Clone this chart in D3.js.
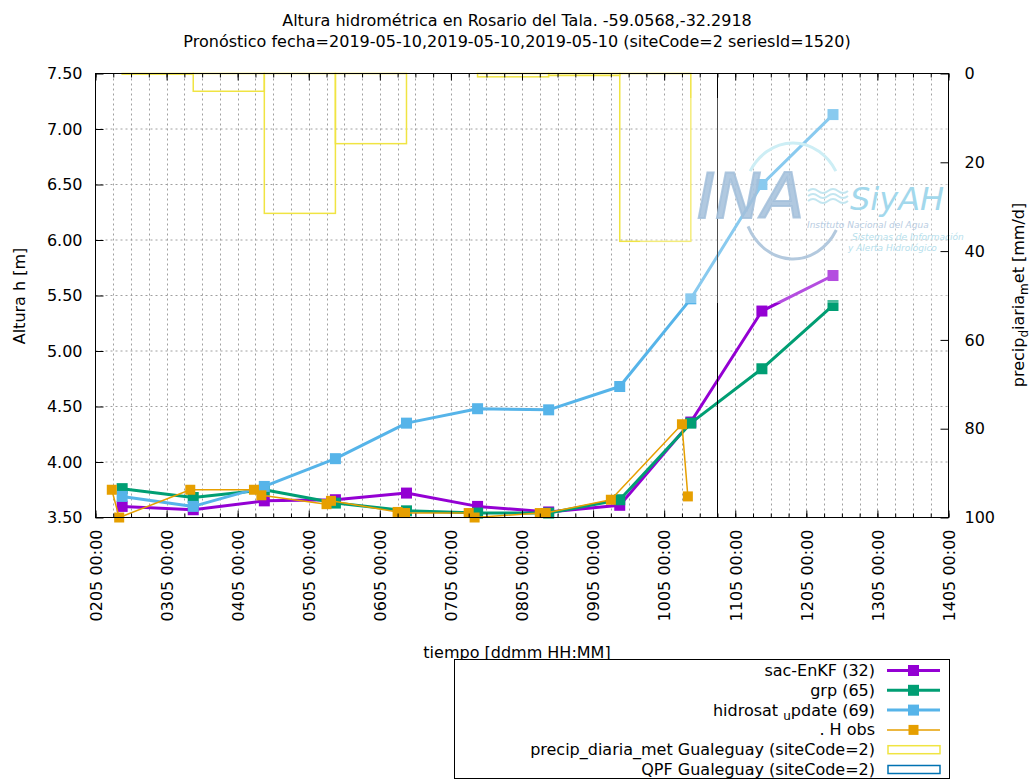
<!DOCTYPE html>
<html>
<head>
<meta charset="utf-8">
<script src="https://cdn.jsdelivr.net/npm/d3@7"></script>
<style>
  body { margin: 0; background: #fff; }
  text { font-family: "DejaVu Sans", sans-serif; }
</style>
</head>
<body>
<svg id="chart" width="1031" height="781"></svg>
<script>
// ---- data ----
const tickDays = ["2019-05-02", "2019-05-03", "2019-05-04", "2019-05-05", "2019-05-06", "2019-05-07",
  "2019-05-08", "2019-05-09", "2019-05-10", "2019-05-11", "2019-05-12", "2019-05-13", "2019-05-14"];
const yTicks = [3.5, 4.0, 4.5, 5.0, 5.5, 6.0, 6.5, 7.0, 7.5];
const y2Ticks = [0, 20, 40, 60, 80, 100];

// simulated series, one value per day at 09:00
const simTimes = ["2019-05-02T09:00", "2019-05-03T09:00", "2019-05-04T09:00", "2019-05-05T09:00",
  "2019-05-06T09:00", "2019-05-07T09:00", "2019-05-08T09:00", "2019-05-09T09:00",
  "2019-05-10T09:00", "2019-05-11T09:00", "2019-05-12T09:00"];
const sacEnKF = [3.60, 3.57, 3.65, 3.66, 3.72, 3.60, 3.55, 3.61, 4.36, 5.36, 5.68];
const grp = [3.76, 3.68, 3.75, 3.63, 3.56, 3.54, 3.54, 3.66, 4.35, 4.84, 5.41];
const hidrosat = [3.69, 3.60, 3.78, 4.03, 4.35, 4.48, 4.47, 4.68, 5.47, 6.50, 7.13];

// observed stage
const obsTimes = ["2019-05-02T05:30", "2019-05-02T08:00", "2019-05-03T08:00", "2019-05-04T05:30",
  "2019-05-04T08:00", "2019-05-05T06:00", "2019-05-05T07:30", "2019-05-06T06:00",
  "2019-05-06T08:30", "2019-05-07T06:00", "2019-05-07T08:00", "2019-05-08T06:00",
  "2019-05-08T08:00", "2019-05-09T06:00", "2019-05-10T06:00", "2019-05-10T08:00"];
const obsH = [3.75, 3.50, 3.75, 3.75, 3.70, 3.62, 3.65, 3.55, 3.54, 3.54, 3.50, 3.54, 3.54, 3.66, 4.34, 3.69];

// daily precipitation (mm/d), boxes starting at 09:00
const precipStart = ["2019-05-02T09:00", "2019-05-03T09:00", "2019-05-04T09:00", "2019-05-05T09:00",
  "2019-05-06T09:00", "2019-05-07T09:00", "2019-05-08T09:00", "2019-05-09T09:00"];
const precipMm = [0.15, 4.0, 31.5, 15.8, 0, 0.75, 0.45, 37.8];

const nowTime = "2019-05-10T18:00";

// ---- setup ----
const svg = d3.select("#chart");
const plot = { left: 95.5, right: 948.5, top: 73.5, bottom: 517.5 };
const parseT = d3.utcParse("%Y-%m-%dT%H:%M");
const parseD = d3.utcParse("%Y-%m-%d");

const x = d3.scaleUtc()
  .domain([parseD(tickDays[0]), parseD(tickDays[tickDays.length - 1])])
  .range([plot.left, plot.right]);
const y = d3.scaleLinear().domain([3.5, 7.5]).range([plot.bottom, plot.top]);
const y2 = d3.scaleLinear().domain([0, 100]).range([plot.top, plot.bottom]);

const colors = {
  sac: "#9400d3", grp: "#009e73", hidro: "#56b4e9", obs: "#e69f00",
  precip: "#f0e442", qpf: "#0072b2",
};

// ---- grid ----
const grid = svg.append("g").attr("stroke", "#a0a0a0").attr("stroke-width", 1)
  .attr("stroke-dasharray", "2,3");
grid.selectAll("line.h")
  .data(yTicks.slice(1, -1))
  .join("line")
  .attr("x1", plot.left).attr("x2", plot.right)
  .attr("y1", (d) => y(d)).attr("y2", (d) => y(d));
grid.selectAll("line.v")
  .data(x.ticks(d3.utcHour.every(6)).slice(1, -1))
  .join("line")
  .attr("x1", (d) => Math.round(x(d)) + 0.5).attr("x2", (d) => Math.round(x(d)) + 0.5)
  .attr("y1", plot.top).attr("y2", plot.bottom);

// ---- precipitation boxes (y2) ----
const precip = precipStart.map((s, i) => ({ t: parseT(s), v: precipMm[i] }));
svg.append("g")
  .selectAll("rect")
  .data(precip)
  .join("rect")
  .attr("x", (d) => x(d.t))
  .attr("width", (d) => x(d3.utcDay.offset(d.t, 1)) - x(d.t))
  .attr("y", y2(0))
  .attr("height", (d) => y2(d.v) - y2(0))
  .attr("fill", "none")
  .attr("stroke", colors.precip)
  .attr("stroke-width", 1.5);

// ---- series ----
const line = d3.line().x((d) => x(d.t)).y((d) => y(d.v));
const sim = (vals) => simTimes.map((s, i) => ({ t: parseT(s), v: vals[i] }));
const series = [
  { key: "sac", data: sim(sacEnKF), color: colors.sac, width: 3, size: 11 },
  { key: "grp", data: sim(grp), color: colors.grp, width: 3, size: 11 },
  { key: "hidro", data: sim(hidrosat), color: colors.hidro, width: 3, size: 11 },
  { key: "obs", data: obsTimes.map((s, i) => ({ t: parseT(s), v: obsH[i] })), color: colors.obs, width: 1.5, size: 10 },
];

series.forEach((s) => {
  const g = svg.append("g");
  g.append("path")
    .datum(s.data)
    .attr("d", line)
    .attr("fill", "none")
    .attr("stroke", s.color)
    .attr("stroke-width", s.width)
    .attr("stroke-linejoin", "round");
  g.selectAll("rect")
    .data(s.data)
    .join("rect")
    .attr("x", (d) => x(d.t) - s.size / 2)
    .attr("y", (d) => y(d.v) - s.size / 2)
    .attr("width", s.size)
    .attr("height", s.size)
    .attr("fill", s.color);
});

// forecast date line
svg.append("line")
  .attr("x1", Math.round(x(parseT(nowTime))) + 0.5).attr("x2", Math.round(x(parseT(nowTime))) + 0.5)
  .attr("y1", plot.top).attr("y2", plot.bottom)
  .attr("stroke", "#000").attr("stroke-width", 1);

// ---- watermark (INA SiyAH logo) ----
const wm = svg.append("g");
wm.append("rect")
  .attr("x", 640).attr("y", 98).attr("width", 316).attr("height", 205)
  .attr("fill", "#fff").attr("fill-opacity", 0.3);
const ell = (cx, cy, rx, ry, a1, a2, sweep) => {
  const r = (a) => (a * Math.PI) / 180;
  const p1 = [cx + rx * Math.cos(r(a1)), cy + ry * Math.sin(r(a1))];
  const p2 = [cx + rx * Math.cos(r(a2)), cy + ry * Math.sin(r(a2))];
  return `M${p1}A${rx},${ry} 0 0 ${sweep} ${p2}`;
};
wm.append("path").attr("d", ell(793, 201, 50, 58, 211, 329, 1))
  .attr("fill", "none").attr("stroke", "#cdeef5").attr("stroke-width", 3);
wm.append("path").attr("d", ell(793, 201, 50, 58, 154, 30, 0))
  .attr("fill", "none").attr("stroke", "#b3c9de").attr("stroke-width", 3);
wm.append("text").attr("x", 697).attr("y", 218)
  .attr("font-size", 62).attr("font-style", "italic")
  .attr("fill", "#a3bfdb").attr("stroke", "#a3bfdb").attr("stroke-width", 2)
  .attr("fill-opacity", 0.85).attr("stroke-opacity", 0.85).text("INA");
[0, 1, 2].forEach((i) => {
  const yy = 191 + i * 5;
  wm.append("path")
    .attr("d", `M808,${yy} q5,-4 10,0 t10,0 t10,0 t10,0`)
    .attr("fill", "none").attr("stroke", "#c3e6f0").attr("stroke-width", 2);
});
wm.append("text").attr("x", 850).attr("y", 210)
  .attr("font-size", 32).attr("font-style", "italic")
  .attr("fill", "#a2d8ec").text("SiyAH");
wm.append("text").attr("x", 807).attr("y", 228)
  .attr("font-family", "DejaVu Serif").attr("font-size", 9).attr("font-style", "italic")
  .attr("fill", "#b9cde2").text("Instituto Nacional del Agua");
wm.append("text").attr("x", 852).attr("y", 240)
  .attr("font-family", "DejaVu Serif").attr("font-size", 9).attr("font-style", "italic")
  .attr("fill", "#b6e0ec").text("Sistemas de Información");
wm.append("text").attr("x", 848).attr("y", 251)
  .attr("font-family", "DejaVu Serif").attr("font-size", 9).attr("font-style", "italic")
  .attr("fill", "#b6e0ec").text("y Alerta Hidrológico");

// ---- axes ----
const fmtX = d3.utcFormat("%d%m %H:%M");
const days = tickDays.map(parseD);
const minor = x.ticks(d3.utcHour.every(6));
const noDomain = (g) => g.select(".domain").remove();

svg.append("g").attr("transform", `translate(0,${plot.bottom})`)
  .call(d3.axisBottom(x).tickValues(minor).tickSize(-4).tickFormat(""))
  .call(noDomain);
svg.append("g").attr("transform", `translate(0,${plot.top})`)
  .call(d3.axisTop(x).tickValues(minor).tickSize(-4).tickFormat(""))
  .call(noDomain);
svg.append("g").attr("transform", `translate(0,${plot.top})`)
  .call(d3.axisTop(x).tickValues(days).tickSize(-7).tickFormat(""))
  .call(noDomain);
const xAxis = svg.append("g").attr("transform", `translate(0,${plot.bottom})`)
  .call(d3.axisBottom(x).tickValues(days).tickSize(-7).tickFormat(fmtX))
  .call(noDomain);
xAxis.selectAll("text")
  .attr("transform", "rotate(-90)")
  .attr("text-anchor", "end")
  .attr("x", -12)
  .attr("y", 5.8)
  .attr("dy", null)
  .attr("font-size", 16)
  .attr("font-family", "DejaVu Sans")
  .attr("fill", "#000");

const yAxis = svg.append("g").attr("transform", `translate(${plot.left},0)`)
  .call(d3.axisLeft(y).tickValues(yTicks).tickSize(-8).tickPadding(13).tickFormat(d3.format(".2f")))
  .call(noDomain);
yAxis.selectAll("text").attr("font-size", 16).attr("font-family", "DejaVu Sans").attr("fill", "#000");

const y2Axis = svg.append("g").attr("transform", `translate(${plot.right},0)`)
  .call(d3.axisRight(y2).tickValues(y2Ticks).tickSize(-8).tickPadding(16))
  .call(noDomain);
y2Axis.selectAll("text").attr("font-size", 16).attr("font-family", "DejaVu Sans").attr("fill", "#000");

svg.selectAll(".tick line").attr("stroke", "#000");

// plot border
svg.append("rect")
  .attr("x", plot.left).attr("y", plot.top)
  .attr("width", plot.right - plot.left).attr("height", plot.bottom - plot.top)
  .attr("fill", "none").attr("stroke", "#000").attr("stroke-width", 1);

// ---- titles ----
svg.append("text").attr("x", 517).attr("y", 26).attr("text-anchor", "middle")
  .attr("font-size", 16).text("Altura hidrométrica en Rosario del Tala. -59.0568,-32.2918");
svg.append("text").attr("x", 517).attr("y", 47).attr("text-anchor", "middle")
  .attr("font-size", 16).text("Pronóstico fecha=2019-05-10,2019-05-10,2019-05-10 (siteCode=2 seriesId=1520)");
svg.append("text").attr("x", 517).attr("y", 658).attr("text-anchor", "middle")
  .attr("font-size", 16).text("tiempo [ddmm HH:MM]");
svg.append("text").attr("transform", "translate(25,296) rotate(-90)").attr("text-anchor", "middle")
  .attr("font-size", 16).text("Altura h [m]");

const y2Label = svg.append("text").attr("transform", "translate(1024,295) rotate(-90)")
  .attr("text-anchor", "middle").attr("font-size", 16);
y2Label.append("tspan").text("precip");
y2Label.append("tspan").attr("dy", 4).attr("font-size", 12).text("d");
y2Label.append("tspan").attr("dy", -4).text("iaria");
y2Label.append("tspan").attr("dy", 4).attr("font-size", 12).text("m");
y2Label.append("tspan").attr("dy", -4).text("et [mm/d]");

// ---- legend ----
const legend = svg.append("g");
legend.append("rect")
  .attr("x", 454.5).attr("y", 659.5).attr("width", 495).attr("height", 119)
  .attr("fill", "#fff").attr("stroke", "#000").attr("stroke-width", 1);

const legendRows = [
  { label: ["sac-EnKF (32)"], type: "line", s: series[0] },
  { label: ["grp (65)"], type: "line", s: series[1] },
  { label: ["hidrosat ", "u", "pdate (69)"], type: "line", s: series[2] },
  { label: [". H obs"], type: "line", s: series[3] },
  { label: ["precip_diaria_met Gualeguay (siteCode=2)"], type: "box", color: colors.precip },
  { label: ["QPF Gualeguay (siteCode=2)"], type: "box", color: colors.qpf },
];
legendRows.forEach((r, i) => {
  const cy = 670.5 + i * 19.8;
  const t = legend.append("text").attr("x", 875).attr("y", cy + 5.5)
    .attr("text-anchor", "end").attr("font-size", 16);
  if (r.label.length === 1) {
    t.text(r.label[0]);
  } else {
    t.append("tspan").text(r.label[0]);
    t.append("tspan").attr("dy", 4).attr("font-size", 12).text(r.label[1]);
    t.append("tspan").attr("dy", -4).text(r.label[2]);
  }
  if (r.type === "line") {
    legend.append("line").attr("x1", 887).attr("x2", 940).attr("y1", cy).attr("y2", cy)
      .attr("stroke", r.s.color).attr("stroke-width", r.s.width);
    legend.append("rect")
      .attr("x", 913.5 - r.s.size / 2).attr("y", cy - r.s.size / 2)
      .attr("width", r.s.size).attr("height", r.s.size).attr("fill", r.s.color);
  } else {
    legend.append("rect").attr("x", 888).attr("y", cy - 4).attr("width", 52).attr("height", 8)
      .attr("fill", "none").attr("stroke", r.color).attr("stroke-width", 1.5);
  }
});
</script>
</body>
</html>
